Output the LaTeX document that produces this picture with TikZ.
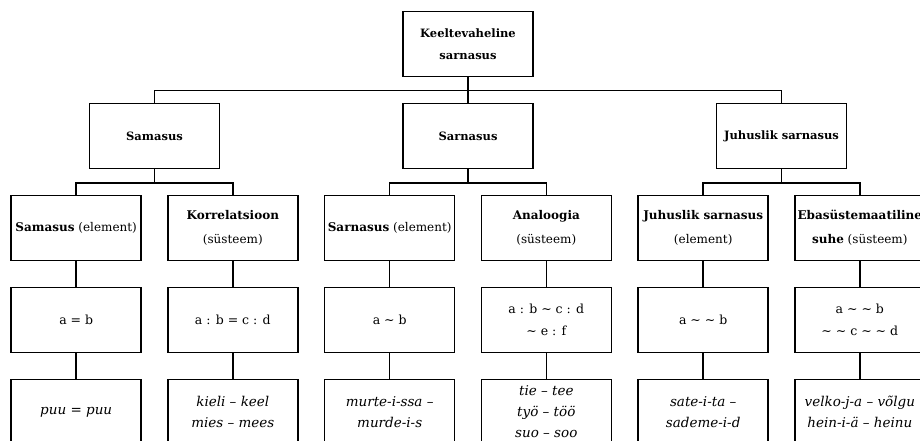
\documentclass[tikz,border=0pt]{standalone}
\usepackage{fontspec}
\setmainfont{DejaVu Serif}

\begin{document}
\begin{tikzpicture}[x=1pt,y=1pt,level distance=92pt,line width=1.5pt,
    edge from parent path={(\tikzparentnode.south) -- ++(0,-13.5) -| (\tikzchildnode.north)}]
        \tikzstyle{every node}=[draw,rectangle,align=center,minimum width=130pt,minimum height=65pt,inner sep=2pt,font=\bfseries\fontsize{11.5}{22}\selectfont]
        \tikzstyle{level 1}=[sibling distance=313.5pt]
        \tikzstyle{level 2}=[sibling distance=156.6pt, set style={{every node}+=[font=\fontsize{12}{24}\selectfont]}]
        \tikzstyle{level 3}=[set style={{every node}+=[font=\fontsize{12.5}{22}\selectfont]}]
        \tikzstyle{level 4}=[set style={{every node}+=[font=\itshape\fontsize{13.5}{21}\selectfont]}]
        \useasboundingbox (0,0) rectangle (920,-441);
        \clip (0,0) rectangle (920,-441);
        \node (kv) at (468,-44) {Keeltevaheline\\sarnasus}
            child {node (sam) {Samasus}
                child {node (samel) {\textbf{Samasus} (element)}
                    child {node (samv) {a = b}
                        child {node (samn) {puu = puu}}}}
                child {node (kor) {\textbf{Korrelatsioon}\\(süsteem)}
                    child {node (korv) {a : b = c : d}
                        child {node (korn) {kieli – keel\\mies – mees}}}}}
            child {node (sar) {Sarnasus}
                child {node (sarel) {\textbf{Sarnasus} (element)}
                    child {node (sarv) {a ∼ b}
                        child {node (sarn) {murte-i-ssa –\\murde-i-s}}}}
                child {node (ana) {\textbf{Analoogia}\\(süsteem)}
                    child {node (anav) {a : b ∼ c : d\\∼ e : f}
                        child {node (anan) {tie – tee\\työ – töö\\suo – soo}}}}}
            child {node (juh) {Juhuslik sarnasus}
                child {node (juhel) {\textbf{Juhuslik sarnasus}\\(element)}
                    child {node (juhv) {a ∼ ∼ b}
                        child {node (juhn) {sate-i-ta –\\sademe-i-d}}}}
                child {node (eba) {\textbf{Ebasüstemaatiline}\\\textbf{suhe} (süsteem)}
                    child {node (ebav) {a ∼ ∼ b\\∼ ∼ c ∼ ∼ d}
                        child {node (eban) {velko-j-a – võlgu\\hein-i-ä – heinu}}}}};
    \end{tikzpicture}
\end{document}
